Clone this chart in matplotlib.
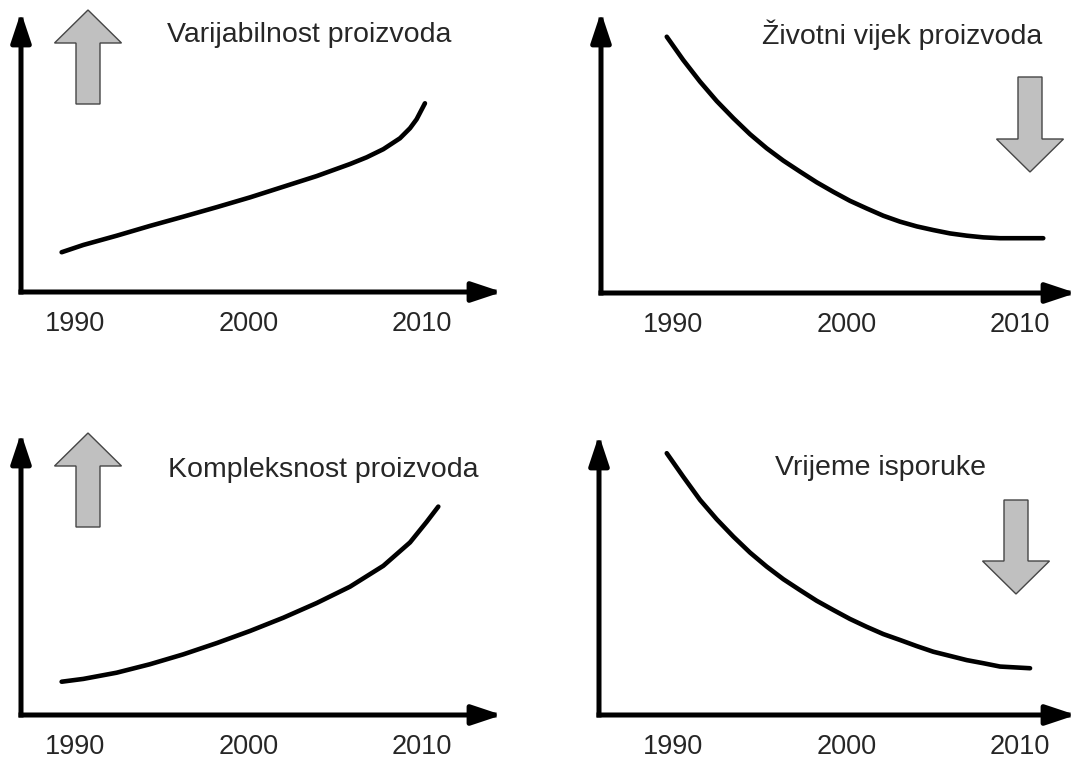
import matplotlib
matplotlib.use("Agg")
import matplotlib.pyplot as plt
from matplotlib.patches import FancyArrow

# ---- data (index values, 0 = x axis, 100 = top of y axis)
years_variability = [1989.23, 1990.48, 1992.40, 1994.32, 1996.24, 1998.17, 2000.09, 2002.01,
                     2003.93, 2005.85, 2006.81, 2007.77, 2008.73, 2009.31, 2009.69, 2010.17]
variability = [14.2, 16.8, 20.1, 23.6, 26.9, 30.3, 33.8, 37.6,
               41.4, 45.7, 48.1, 51.0, 54.9, 58.5, 61.7, 67.4]

years_lifecycle = [1989.64, 1990.59, 1991.56, 1992.52, 1993.48, 1994.44, 1995.40, 1996.36,
                   1997.32, 1998.28, 1999.24, 2000.20, 2001.16, 2002.12, 2003.08, 2004.05,
                   2005.00, 2005.97, 2006.93, 2007.88, 2008.85, 2011.34]
lifecycle = [91.2, 82.9, 75.2, 68.3, 62.2, 56.5, 51.5, 47.1,
             43.2, 39.4, 36.0, 32.8, 30.1, 27.5, 25.4, 23.7,
             22.4, 21.2, 20.4, 19.8, 19.5, 19.5]

years_complexity = [1989.23, 1990.48, 1992.40, 1994.32, 1996.24, 1998.17, 2000.09,
                    2002.01, 2003.93, 2005.85, 2007.77, 2009.31, 2010.27, 2010.94]
complexity = [11.8, 12.8, 15.0, 18.0, 21.5, 25.5, 29.8,
              34.5, 39.7, 45.5, 52.9, 61.2, 68.5, 73.9]

years_delivery = [1989.64, 1990.59, 1991.56, 1992.52, 1993.48, 1994.44, 1995.40, 1996.36,
                  1997.32, 1998.28, 1999.24, 2000.20, 2001.16, 2002.12, 2003.08, 2004.05,
                  2005.00, 2005.97, 2006.93, 2007.88, 2008.85, 2010.58]
delivery = [93.5, 85.1, 76.8, 69.9, 63.7, 58.0, 53.0, 48.5,
            44.6, 40.8, 37.5, 34.3, 31.5, 28.9, 26.8, 24.6,
            22.6, 21.1, 19.6, 18.5, 17.3, 16.7]

tick_years = [1990, 2000, 2010]
tick_labels = ["1990", "2000", "2010"]
titles = ["Varijabilnost proizvoda", "Životni vijek proizvoda",
          "Kompleksnost proizvoda", "Vrijeme isporuke"]

# ---- layout (pixels, origin top-left)
W, H = 1077, 762
PX_PER_YEAR = 17.35
TEXT = "#262626"

plt.rcParams["font.family"] = ["Liberation Sans", "DejaVu Sans"]

fig = plt.figure(figsize=(W / 100, H / 100), dpi=100)


def frac(x, y):
    return x / W, (H - y) / H


def block_arrow(cx, y_tail, y_tip):
    # big grey trend arrow, drawn in inches (1 px = 0.01 in)
    arr = FancyArrow(cx / 100, (H - y_tail) / 100, 0, (y_tail - y_tip) / 100,
                     width=0.24, head_width=0.67, head_length=0.33,
                     length_includes_head=True, transform=fig.dpi_scale_trans,
                     facecolor="#c0c0c0", edgecolor="#454545", linewidth=1.0)
    fig.patches.append(arr)


panels = [
    dict(x=years_variability, y=variability, box=(21, 12, 502, 292), x1990=75,
         title_at=(167, 42), arrow=(88, 104, 10)),
    dict(x=years_lifecycle, y=lifecycle, box=(601, 12, 1076, 293), x1990=673,
         title_at=(762, 44), arrow=(1030, 77, 172)),
    dict(x=years_complexity, y=complexity, box=(21, 433, 502, 715), x1990=75,
         title_at=(168, 477), arrow=(88, 527, 433)),
    dict(x=years_delivery, y=delivery, box=(599, 435, 1076, 715), x1990=673,
         title_at=(775, 475), arrow=(1016, 500, 594)),
]

for p, title in zip(panels, titles):
    L, T, R, B = p["box"]
    ax = fig.add_axes([L / W, (H - B) / H, (R - L) / W, (B - T) / H])
    ax.patch.set_alpha(0)
    ax.set_xlim(1990 + (L - p["x1990"]) / PX_PER_YEAR, 1990 + (R - p["x1990"]) / PX_PER_YEAR)
    ax.set_ylim(0, 100)

    ax.plot(p["x"], p["y"], color="black", lw=3.3, solid_capstyle="round",
            solid_joinstyle="round")

    for s in ax.spines.values():
        s.set_visible(False)
    ax.set_yticks([])
    ax.set_xticks(tick_years)
    ax.set_xticklabels(tick_labels)
    ax.tick_params(axis="x", length=0, pad=13.5, labelsize=19.5, labelcolor=TEXT)

    # arrow-headed axes
    style = "-|>,head_length=18,head_width=6"
    for end in [(1, 0), (0, 1)]:
        ax.annotate("", xy=end, xytext=(0, 0), xycoords="axes fraction",
                    annotation_clip=False,
                    arrowprops=dict(arrowstyle=style, mutation_scale=1, lw=3.6,
                                    color="black", shrinkA=0, shrinkB=0,
                                    capstyle="projecting"))

    tx, ty = frac(*p["title_at"])
    fig.text(tx, ty, title, fontsize=20.5, color=TEXT, ha="left", va="baseline")

    block_arrow(*p["arrow"])

fig.savefig("out.png", dpi=100)
